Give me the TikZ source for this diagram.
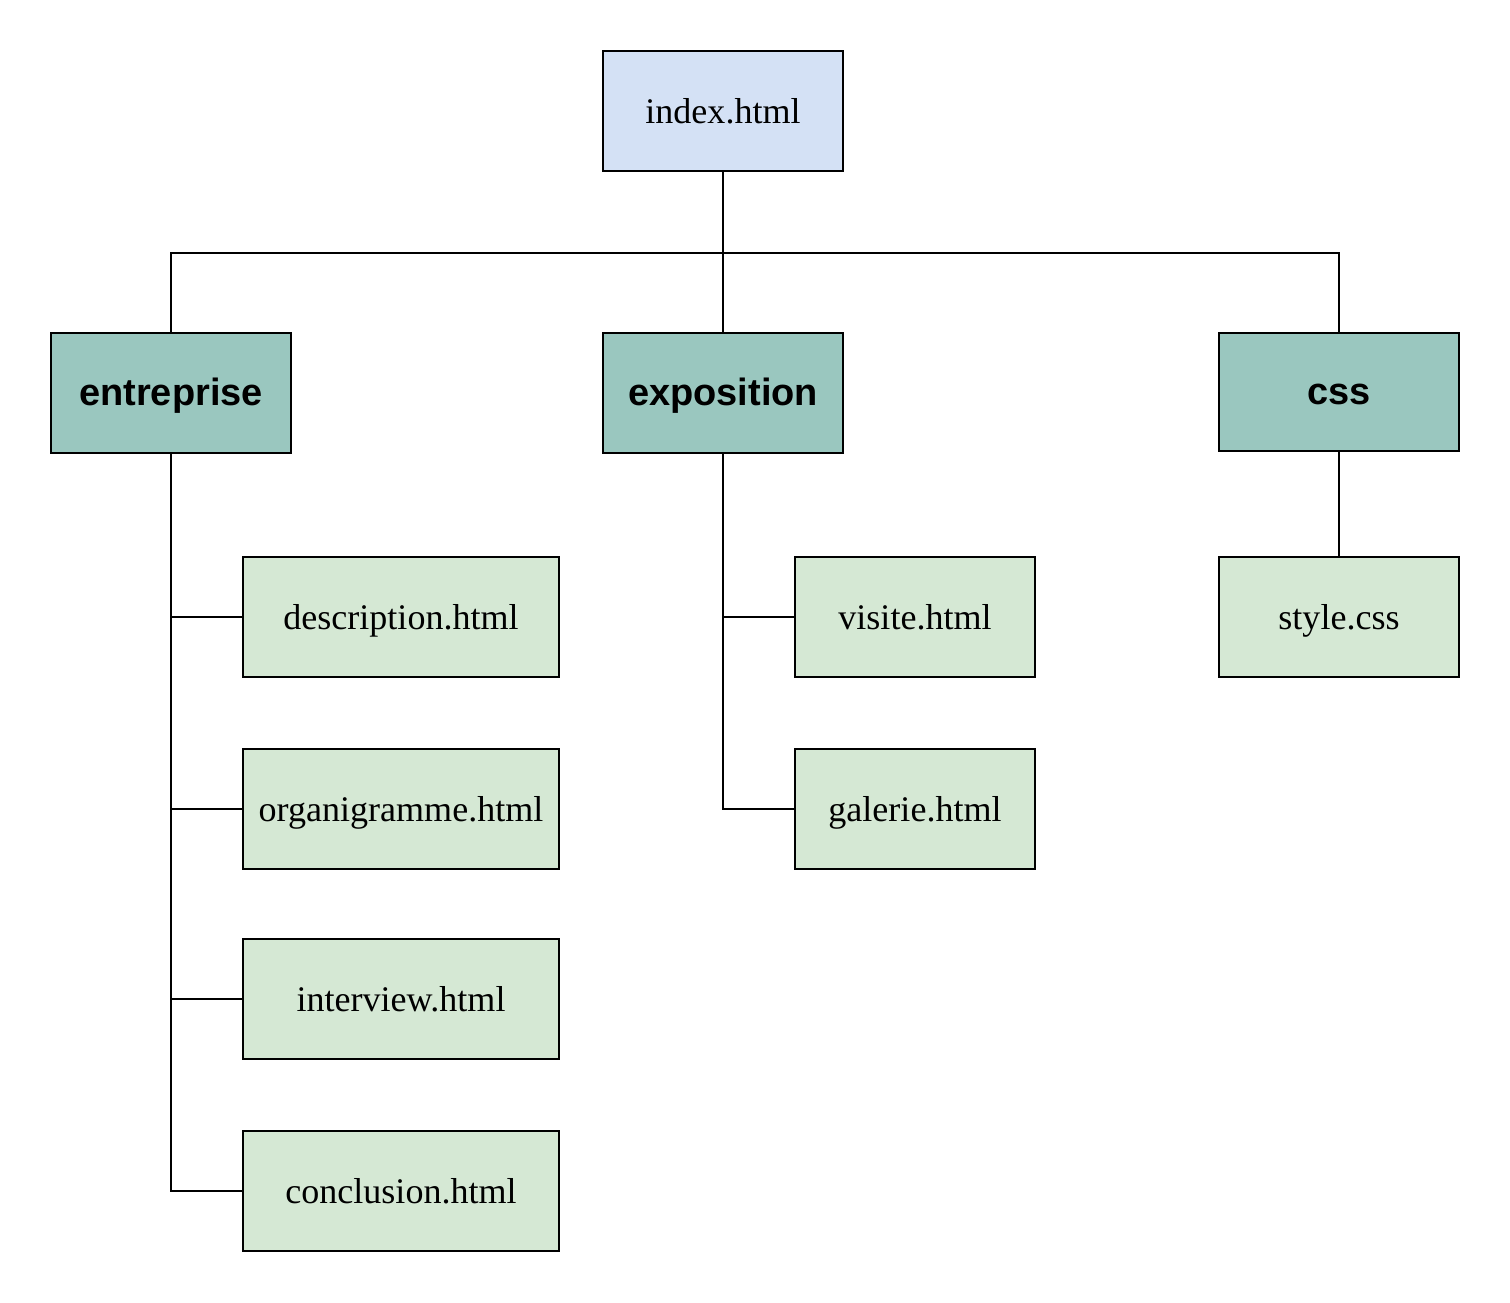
\documentclass[tikz,border=0pt]{standalone}
\usepackage{fontspec}
\setmainfont{Liberation Serif}
\setsansfont{Liberation Sans}
\usepackage{xcolor}
\definecolor{rootblue}{HTML}{D4E1F5}
\definecolor{foldergreen}{HTML}{9AC7BF}
\definecolor{filegreen}{HTML}{D5E8D4}

\begin{document}
\begin{tikzpicture}[x=0.01cm,y=-0.01cm]
        \tikzset{box/.style={draw,line width=0.6pt,minimum height=1.2cm,
                inner sep=0pt,text height=0.3cm,text depth=0.06cm,
                font=\fontsize{10.25pt}{12pt}\selectfont},
            root/.style={box,fill=rootblue,minimum width=2.4cm},
            folder/.style={box,fill=foldergreen,minimum width=2.4cm,
                font=\fontsize{10.8pt}{12pt}\selectfont\sffamily\bfseries},
            file/.style={box,fill=filegreen,minimum width=2.4cm},
            wide/.style={file,minimum width=3.16cm},
            link/.style={draw,line width=0.6pt}}
        \useasboundingbox (0,0) rectangle (1510,1302);
        \node[root] (index) at (723,111) {index.html};
        \node[folder] (entr) at (171,393) {entreprise};
        \node[folder] (expo) at (723,393) {exposition};
        \node[folder,minimum height=1.18cm] (css) at (1339,392) {css};
        \node[wide] (desc) at (401,617) {description.html};
        \node[wide] (orga) at (401,809) {organigramme.html};
        \node[wide] (inter) at (401,999) {interview.html};
        \node[wide] (concl) at (401,1191) {conclusion.html};
        \node[file] (visite) at (915,617) {visite.html};
        \node[file] (galerie) at (915,809) {galerie.html};
        \node[file] (style) at (1339,617) {style.css};
        \coordinate (bus) at (723,253);
        % tree links
        \path[link] (index) -- (expo);
        \path[link] (entr) |- (bus) -| (css);
        \foreach \f in {desc,orga,inter,concl}
            \path[link] (entr) |- (\f);
        \foreach \f in {visite,galerie}
            \path[link] (expo) |- (\f);
        \path[link] (css) -- (style);
    \end{tikzpicture}
\end{document}
